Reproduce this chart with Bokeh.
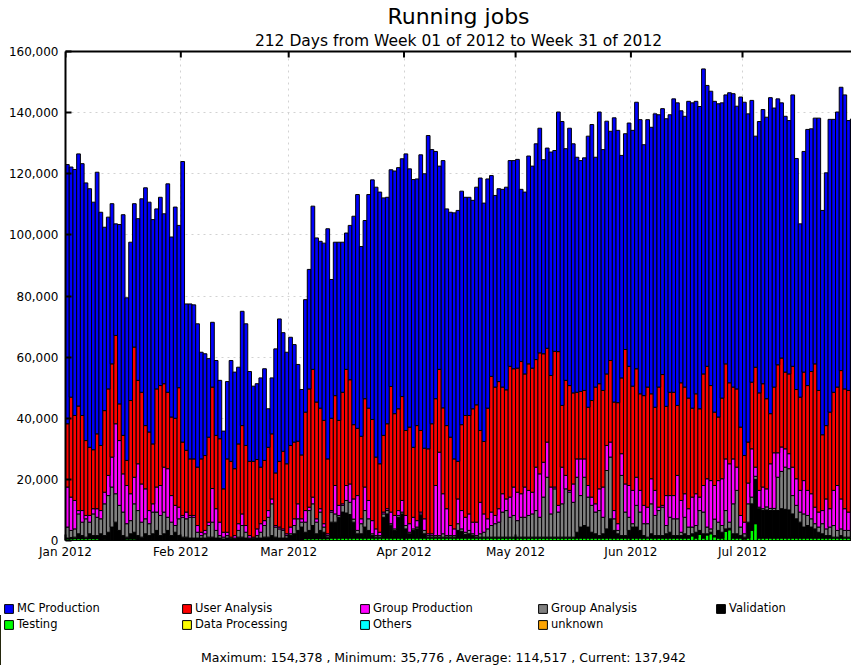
from bokeh.plotting import figure
from bokeh.layouts import column
from bokeh.models import (ColumnDataSource, Range1d, LinearAxis, FixedTicker, NumeralTickFormatter,
                          Legend, LegendItem, Label, Grid, Title)
from bokeh.embed import file_html
from bokeh.resources import INLINE

FONT = "DejaVu Sans"

# ---- axis categories / ticks ----
month_start_day = [0, 31, 60, 91, 121, 152, 182]
month_labels = ["Jan 2012", "Feb 2012", "Mar 2012", "Apr 2012", "May 2012", "Jun 2012", "Jul 2012"]
y_ticks = [0, 20000, 40000, 60000, 80000, 100000, 120000, 140000, 160000]

# ---- daily running jobs (thousands), day 0 = 1 Jan 2012 ----
mc_production = [
    84.8, 75.3, 80.5, 82.5, 82.4, 84.3, 84.6, 81.0, 85.6, 76.3,
    60.0, 56.2, 52.4, 36.5, 58.7, 72.2, 53.2, 51.8, 46.9, 52.9,
    63.3, 77.8, 75.2, 73.4, 58.9, 61.6, 55.6, 68.2, 58.9, 69.1,
    53.1, 91.8, 47.9, 50.7, 50.4, 46.9, 34.9, 33.3, 25.7, 21.2,
    24.5, 19.1, 18.9, 25.3, 33.0, 31.6, 25.1, 37.4, 39.8, 29.4,
    24.6, 24.8, 29.2, 30.0, 12.6, 18.3, 40.6, 46.6, 38.8, 36.5,
    35.4, 31.9, 25.1, 21.4, 36.8, 39.1, 53.4, 53.7, 54.6, 58.0,
    75.3, 45.4, 50.2, 58.3, 49.1, 44.6, 50.5, 68.2, 76.5, 62.1,
    58.3, 69.9, 78.4, 88.3, 88.9, 77.7, 74.1, 70.9, 79.4, 78.9,
    77.8, 90.5, 84.5, 87.6, 80.7, 90.2, 89.8, 102.5, 89.7, 80.9,
    66.5, 80.9, 70.9, 73.6, 80.5, 82.1, 76.4, 71.4, 71.4, 68.2,
    71.2, 82.6, 78.0, 75.0, 65.7, 62.7, 63.1, 64.7, 66.3, 67.3,
    68.1, 68.3, 56.3, 59.5, 68.0, 66.1, 70.6, 73.5, 63.5, 65.5,
    73.1, 65.7, 78.4, 92.9, 75.8, 84.2, 81.5, 76.9, 75.5, 76.1,
    88.7, 90.3, 75.2, 88.9, 78.8, 82.7, 75.0, 93.0, 89.1, 72.8,
    70.6, 79.6, 83.7, 87.2, 89.7, 82.1, 87.5, 87.2, 96.0, 89.1,
    87.0, 94.1, 90.8, 96.0, 99.0, 89.0, 88.6, 97.1, 99.9, 95.7,
    98.9, 99.8, 91.9, 96.3, 101.7, 102.5, 96.6, 88.0, 94.9, 96.0,
    92.5, 108.0, 115.6, 107.4, 92.2, 75.6, 88.8, 89.7, 92.1, 103.4,
    91.3, 87.0, 83.5, 83.7, 82.9, 88.8, 75.6, 56.7, 72.2, 83.8,
    79.4, 80.4, 89.1, 73.4, 82.7, 95.8, 89.3, 90.0, 92.7, 96.2,
    88.3, 88.9,
]
user_analysis = [
    20.7, 32.7, 27.8, 34.2, 31.1, 24.5, 22.3, 19.3, 24.5, 21.3,
    26.7, 28.3, 30.5, 28.9, 12.0, 12.6, 8.2, 30.5, 42.6, 27.3,
    30.0, 20.7, 25.7, 19.6, 32.1, 32.7, 27.3, 25.0, 25.7, 28.5,
    39.1, 24.0, 20.2, 18.5, 18.5, 19.1, 24.0, 24.5, 27.8, 33.2,
    24.0, 27.3, 14.2, 24.0, 24.8, 21.9, 26.1, 28.9, 26.2, 24.3,
    24.8, 22.7, 18.5, 19.7, 20.7, 21.3, 17.2, 21.5, 25.4, 22.9,
    26.7, 25.1, 20.5, 20.9, 32.2, 38.7, 41.8, 38.2, 32.9, 33.8,
    24.5, 30.2, 29.4, 27.8, 36.5, 38.0, 34.1, 24.3, 22.0, 27.0,
    28.9, 30.2, 33.1, 23.5, 22.4, 25.1, 27.8, 41.1, 33.3, 33.3,
    34.0, 27.8, 31.6, 22.9, 31.1, 26.7, 23.1, 27.8, 36.0, 28.4,
    27.1, 28.1, 27.2, 28.9, 22.9, 12.3, 28.1, 33.3, 32.2, 37.1,
    38.4, 23.5, 23.7, 36.2, 44.4, 42.0, 41.6, 34.9, 35.7, 42.8,
    38.7, 40.6, 43.3, 37.0, 41.4, 40.6, 35.2, 39.6, 35.5, 30.7,
    36.5, 44.4, 50.3, 20.2, 31.1, 34.3, 29.8, 21.8, 22.1, 22.4,
    25.6, 31.6, 38.2, 34.4, 31.6, 23.4, 26.7, 35.5, 39.6, 24.8,
    44.0, 39.0, 34.1, 35.5, 31.6, 35.9, 39.3, 27.8, 27.2, 39.3,
    42.8, 29.2, 33.8, 33.8, 22.9, 38.5, 34.9, 36.2, 29.1, 32.7,
    28.9, 36.5, 36.8, 31.1, 24.0, 20.8, 26.4, 31.1, 26.5, 23.5,
    25.6, 28.9, 21.8, 13.4, 21.8, 32.7, 31.9, 33.8, 29.5, 16.4,
    21.5, 28.8, 29.1, 25.1, 26.1, 33.0, 29.2, 30.5, 35.5, 34.3,
    40.0, 46.9, 39.8, 24.8, 24.0, 31.6, 32.1, 32.2, 42.0, 39.2,
    39.8, 39.5,
]
group_production = [
    13.1, 10.9, 9.3, 1.1, 3.8, 1.1, 2.2, 1.7, 2.8, 2.7,
    3.8, 6.6, 9.8, 22.9, 21.2, 12.5, 12.5, 8.8, 8.7, 15.3,
    12.5, 9.8, 4.3, 2.7, 8.2, 9.8, 14.7, 15.9, 8.7, 6.6,
    3.8, 0.6, 2.2, 0.6, 0.6, 2.2, 1.1, 1.1, 1.1, 11.0,
    7.1, 4.4, 1.6, 1.1, 0.3, 0.8, 2.2, 3.8, 2.2, 0.8,
    0.3, 2.2, 2.8, 1.6, 2.2, 1.6, 0.5, 0.6, 0.5, 0.6,
    2.2, 2.2, 4.9, 1.1, 3.8, 1.1, 2.2, 1.1, 1.1, 1.1,
    0.6, 0.5, 9.3, 3.3, 0.5, 4.9, 6.0, 6.6, 11.4, 1.6,
    7.7, 6.0, 4.3, 2.2, 1.1, 0.6, 0.6, 3.8, 4.4, 1.6,
    3.8, 3.3, 2.8, 3.8, 2.1, 0.6, 3.8, 0.6, 0.6, 16.4,
    27.3, 13.1, 8.8, 3.3, 2.2, 8.1, 6.0, 4.9, 5.4, 3.8,
    4.4, 10.3, 6.0, 3.3, 4.4, 2.7, 4.4, 6.0, 3.8, 6.6,
    9.3, 9.3, 7.7, 9.9, 8.2, 7.1, 14.2, 14.2, 11.4, 11.5,
    8.8, 0.6, 2.2, 12.0, 4.4, 0.6, 6.0, 6.0, 12.0, 6.0,
    3.8, 2.7, 2.7, 7.1, 9.9, 8.2, 4.9, 2.7, 2.2, 7.1,
    9.2, 10.4, 10.9, 9.2, 7.1, 6.0, 5.4, 8.2, 8.2, 1.1,
    0.6, 9.8, 7.1, 7.6, 14.2, 10.4, 7.7, 6.0, 9.8, 10.4,
    4.4, 8.7, 15.8, 15.8, 11.0, 13.6, 15.3, 16.9, 19.1, 14.7,
    7.6, 3.8, 3.8, 6.8, 15.8, 3.0, 5.5, 7.1, 5.9, 14.6,
    18.2, 8.0, 8.0, 6.0, 4.9, 9.3, 8.7, 7.1, 10.9, 8.2,
    8.2, 5.4, 4.9, 4.3, 9.8, 6.0, 11.5, 14.7, 9.8, 7.1,
    6.0, 6.2,
]
group_analysis = [
    3.6, 2.3, 2.7, 6.5, 4.4, 6.0, 3.8, 7.1, 6.0, 4.9,
    10.4, 12.0, 13.1, 9.3, 8.2, 7.7, 4.4, 4.3, 9.3, 8.2,
    4.9, 4.9, 3.9, 7.1, 6.0, 6.6, 7.1, 4.3, 4.4, 2.2,
    5.5, 6.5, 6.0, 6.8, 6.8, 1.9, 0.8, 1.4, 3.8, 4.9,
    2.5, 0.8, 0.6, 0.8, 0.3, 0.3, 2.2, 3.8, 1.9, 0.3,
    0.3, 0.8, 1.9, 3.8, 6.5, 10.4, 3.3, 3.0, 2.5, 0.8,
    0.6, 2.7, 3.8, 1.6, 3.3, 6.5, 7.1, 3.8, 6.0, 1.7,
    0.5, 3.3, 2.7, 0.6, 2.2, 4.1, 4.0, 1.0, 1.1, 3.3,
    5.4, 3.8, 0.6, 0.5, 0.5, 1.1, 1.1, 0.5, 0.5, 0.6,
    0.6, 1.1, 0.5, 0.5, 0.6, 0.5, 1.1, 0.5, 0.5, 0.5,
    0.5, 1.1, 0.5, 0.5, 0.5, 2.2, 0.8, 0.7, 1.1, 0.6,
    0.5, 1.1, 1.6, 2.7, 3.8, 4.4, 4.9, 8.2, 8.7, 6.5,
    7.1, 5.4, 6.5, 6.5, 7.1, 7.6, 8.7, 6.5, 13.1, 19.6,
    7.6, 15.8, 8.2, 10.9, 15.8, 14.7, 11.4, 18.0, 10.3, 15.8,
    9.8, 8.8, 7.1, 8.2, 5.4, 19.1, 20.2, 3.8, 1.1, 19.7,
    7.7, 4.3, 1.1, 7.1, 6.0, 3.9, 4.4, 9.8, 6.6, 8.2,
    9.3, 2.7, 4.9, 5.5, 5.5, 1.1, 5.4, 2.8, 2.2, 2.2,
    6.5, 7.1, 2.2, 1.1, 5.4, 2.7, 2.2, 6.0, 2.0, 9.8,
    14.2, 2.8, 1.1, 6.0, 2.2, 1.0, 0.5, 0.6, 1.0, 0.7,
    0.7, 10.9, 12.2, 13.8, 13.5, 6.0, 4.4, 3.3, 4.3, 3.3,
    2.7, 1.7, 1.7, 3.3, 2.2, 2.8, 3.8, 2.2, 2.2, 2.2,
    2.2, 2.2,
]
validation = [
    0.2, 0.4, 0.5, 1.6, 1.0, 0.5, 1.6, 1.0, 1.0, 2.2,
    1.2, 2.7, 4.4, 6.0, 3.3, 1.6, 0.6, 1.7, 2.2, 1.6,
    1.1, 2.2, 1.6, 2.2, 3.3, 1.6, 2.2, 3.3, 1.6, 2.7,
    1.6, 1.1, 1.1, 0.8, 0.8, 0.8, 0.8, 0.8, 1.1, 1.1,
    0.8, 0.8, 0.5, 0.8, 0.5, 0.5, 1.1, 1.1, 0.8, 0.5,
    0.5, 0.8, 0.8, 1.1, 1.1, 1.6, 1.1, 0.8, 0.8, 0.8,
    1.6, 2.2, 3.3, 4.1, 2.1, 2.7, 4.3, 1.6, 2.7, 2.1,
    0.5, 5.2, 5.2, 6.8, 8.5, 8.2, 7.7, 5.2, 1.4, 1.4,
    3.6, 2.5, 0.8, 0.3, 0.3, 6.8, 7.9, 4.2, 2.5, 6.8,
    7.9, 3.0, 1.4, 2.5, 3.0, 7.4, 1.4, 0.3, 0.3, 0.3,
    0.3, 0.3, 0.3, 0.3, 0.3, 2.5, 2.2, 1.2, 1.4, 0.8,
    0.3, 0.3, 0.3, 0.3, 0.3, 0.3, 0.3, 0.3, 0.3, 0.3,
    0.3, 0.3, 0.3, 0.3, 0.3, 0.3, 0.3, 0.3, 0.3, 0.3,
    0.3, 0.3, 0.3, 0.3, 0.3, 0.3, 0.3, 1.9, 3.6, 4.1,
    3.6, 1.9, 1.4, 0.8, 1.4, 3.0, 6.3, 2.5, 1.4, 0.8,
    0.8, 2.5, 3.6, 3.6, 2.5, 0.8, 0.3, 1.4, 0.8, 0.8,
    0.8, 1.4, 1.9, 0.8, 0.8, 0.8, 1.4, 0.8, 0.7, 1.9,
    1.3, 1.4, 0.4, 0.5, 0.4, 2.5, 1.9, 0.8, 0.5, 1.4,
    1.4, 0.8, 0.6, 5.2, 8.7, 14.5, 9.6, 9.0, 9.2, 9.0,
    9.0, 9.0, 9.6, 9.4, 9.2, 7.9, 6.3, 5.2, 3.6, 4.1,
    3.6, 3.0, 1.9, 1.4, 0.8, 0.8, 0.3, 0.3, 0.8, 0.3,
    0.3, 0.3,
]
testing = [
    0.6, 0.6, 0.6, 0.6, 0.6, 0.6, 0.6, 0.6, 0.6, 0.0,
    0.4, 0.0, 0.0, 0.0, 0.0, 0.0, 0.5, 0.5, 0.5, 0.0,
    0.0, 0.0, 0.0, 0.0, 0.0, 0.0, 0.0, 0.0, 0.0, 0.0,
    0.0, 0.0, 0.0, 0.0, 0.0, 0.0, 0.0, 0.0, 0.0, 0.0,
    0.0, 0.0, 0.0, 0.0, 0.0, 0.0, 0.0, 0.0, 0.0, 0.0,
    0.0, 0.0, 0.0, 0.0, 0.0, 0.0, 0.0, 0.0, 0.0, 0.0,
    0.0, 0.0, 0.0, 0.3, 0.6, 0.6, 0.6, 0.6, 0.6, 0.6,
    0.6, 0.8, 0.8, 0.8, 0.8, 0.8, 0.8, 0.8, 0.8, 0.8,
    0.8, 0.8, 0.8, 0.8, 0.8, 0.8, 0.8, 0.8, 0.8, 0.8,
    0.8, 0.8, 0.8, 0.8, 0.8, 0.8, 0.8, 0.8, 0.8, 0.8,
    0.8, 0.8, 0.8, 0.8, 0.8, 0.8, 0.8, 0.8, 0.8, 0.8,
    0.8, 0.8, 0.8, 0.8, 0.8, 0.8, 0.8, 0.8, 0.8, 0.8,
    0.8, 0.8, 0.8, 0.8, 0.8, 0.8, 0.8, 0.8, 0.8, 0.8,
    0.8, 0.8, 0.8, 0.8, 0.8, 0.8, 0.8, 0.8, 0.8, 0.8,
    0.8, 0.8, 0.8, 0.8, 0.8, 0.8, 0.8, 0.8, 0.8, 0.8,
    0.8, 0.8, 0.8, 0.8, 0.8, 0.8, 0.8, 0.8, 0.8, 0.8,
    0.8, 0.8, 0.8, 0.8, 0.8, 0.8, 0.8, 0.8, 1.5, 0.8,
    2.0, 0.8, 1.8, 2.2, 1.2, 0.8, 0.8, 3.0, 3.5, 0.8,
    0.8, 0.8, 0.5, 0.8, 3.3, 5.5, 0.8, 0.8, 0.8, 0.8,
    0.8, 0.8, 0.8, 0.8, 0.8, 0.8, 0.8, 0.8, 0.8, 0.8,
    0.8, 0.8, 0.8, 0.8, 0.8, 0.8, 0.8, 0.8, 0.8, 0.8,
    0.8, 0.8,
]

series_names = ["MC Production", "User Analysis", "Group Production", "Group Analysis",
                "Validation", "Testing", "Data Processing", "Others", "unknown"]
series_colors = ["#0000ff", "#ff0000", "#ff00ff", "#808080",
                 "#000000", "#00ff00", "#ffff00", "#00ffff", "#ffa500"]

title_text = "Running jobs"
subtitle_text = "212 Days from Week 01 of 2012 to Week 31 of 2012"
stats_text = "Maximum: 154,378 , Minimum: 35,776 , Average: 114,517 , Current: 137,942"

# ---- build source (values in jobs) ----
K = 1000
n_days = len(mc_production)
src = ColumnDataSource(dict(
    x=[d + 0.5 for d in range(n_days)],
    testing=[v * K for v in testing],
    validation=[v * K for v in validation],
    group_analysis=[v * K for v in group_analysis],
    group_production=[v * K for v in group_production],
    user_analysis=[v * K for v in user_analysis],
    mc_production=[v * K for v in mc_production],
))

W = 851
p = figure(width=W, height=565, x_range=Range1d(0, 211.3), y_range=Range1d(0, 160000),
           output_backend="svg", toolbar_location=None,
           x_axis_type=None, y_axis_type=None,
           min_border_left=65, min_border_right=0, min_border_top=51, min_border_bottom=25)
p.title_location = None
p.outline_line_color = None
p.background_fill_color = "white"
p.border_fill_color = "white"
p.frame_align = False

xt = FixedTicker(ticks=month_start_day)
yt = FixedTicker(ticks=y_ticks)

p.add_layout(Grid(dimension=0, ticker=xt, grid_line_color="#d2d2d2", grid_line_dash="2 4"))
p.add_layout(Grid(dimension=1, ticker=yt, grid_line_color="#d2d2d2", grid_line_dash="2 4"))

stack_order = ["testing", "validation", "group_analysis", "group_production",
               "user_analysis", "mc_production"]
stack_colors = ["#00ff00", "#000000", "#808080", "#ff00ff", "#ff0000", "#0000ff"]
p.vbar_stack(stack_order, x="x", width=1.0, source=src,
             fill_color=stack_colors, line_color="black", line_width=1)

# inward tick marks along the top edge at month starts
p.segment(x0=month_start_day, x1=month_start_day,
          y0=[y_ticks[-1]] * len(month_start_day), y1=[y_ticks[-1] - 2000] * len(month_start_day),
          line_color="black", line_width=2)

yaxis = LinearAxis(ticker=yt, formatter=NumeralTickFormatter(format="0,0"),
                   major_tick_in=6, major_tick_out=0, major_tick_line_width=2,
                   axis_line_width=2, major_label_standoff=7,
                   major_label_text_font=FONT, major_label_text_font_size="12px",
                   major_label_text_color="black")
p.add_layout(yaxis, "left")

xaxis = LinearAxis(ticker=xt,
                   major_label_overrides={d: lab for d, lab in zip(month_start_day, month_labels)},
                   major_tick_in=6, major_tick_out=0, major_tick_line_width=2,
                   axis_line_width=1, major_label_standoff=4,
                   major_label_text_font=FONT, major_label_text_font_size="12px",
                   major_label_text_color="black")
p.add_layout(xaxis, "below")

topaxis = LinearAxis(ticker=FixedTicker(ticks=[]), axis_line_width=2,
                     major_tick_in=0, major_tick_out=0, major_label_standoff=0)
p.add_layout(topaxis, "above")

p.add_layout(Title(text=subtitle_text, align="center", text_font=FONT, text_font_size="15.5px",
                   text_font_style="normal", text_color="black", standoff=3), "above")
p.add_layout(Title(text=title_text, align="center", text_font=FONT, text_font_size="22px",
                   text_font_style="normal", text_color="black", standoff=0), "above")

# ---- legend + statistics strip ----
q = figure(width=W, height=100, x_range=Range1d(0, 1), y_range=Range1d(0, 1),
           output_backend="svg", toolbar_location=None,
           x_axis_type=None, y_axis_type=None,
           min_border_left=0, min_border_right=0, min_border_top=0, min_border_bottom=0)
q.title_location = None
q.outline_line_color = None
q.background_fill_color = "white"
q.border_fill_color = "white"
q.frame_align = False

# legend swatches: one off-range bar per series (not visible in the strip)
proxies = [q.vbar(x=[-5], top=[0.5], width=0.1, fill_color=c, line_color="black")
           for c in series_colors]
items = [LegendItem(label=nm, renderers=[r]) for nm, r in zip(series_names, proxies)]
legend = Legend(items=items, orientation="horizontal", ncols=5, location=(3, 34),
                glyph_width=11, glyph_height=11, label_standoff=3, label_width=162,
                label_height=14, spacing=2, padding=0, margin=0,
                border_line_color=None, background_fill_alpha=0,
                label_text_font=FONT, label_text_font_size="11.5px", label_text_color="black")
q.add_layout(legend, "center")

q.add_layout(Label(x=443, y=8, x_units="screen", y_units="screen", text=stats_text,
                   text_align="center", text_baseline="middle", text_font=FONT,
                   text_font_size="12.5px", text_color="black"))

layout = column(p, q, spacing=0)
open("out.html", "w").write(file_html(layout, INLINE))
